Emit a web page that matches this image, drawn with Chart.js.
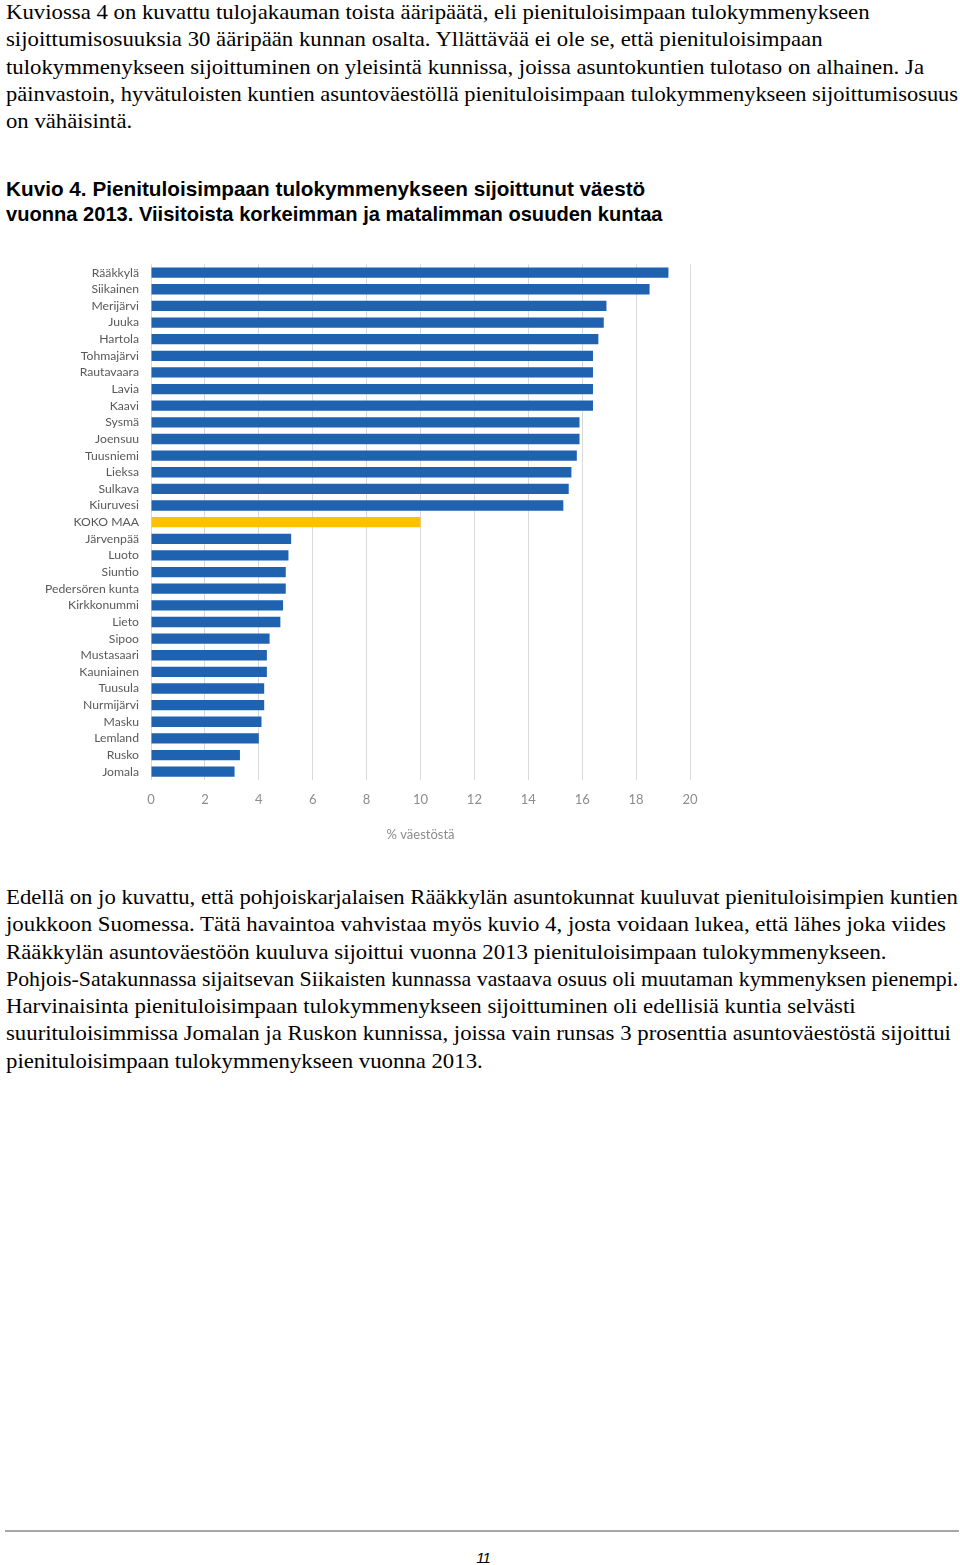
<!DOCTYPE html>
<html>
<head>
<meta charset="utf-8">
<script src="https://cdn.jsdelivr.net/npm/chart.js@4.4.1/dist/chart.umd.min.js"></script>
<style>
  body { margin: 0; background: #fff; width: 960px; height: 1565px; position: relative; overflow: hidden; }
  .para { position: absolute; left: 6px; font-family: "Liberation Serif", serif; font-size: 22px; line-height: 27.3px; color: #000; white-space: nowrap; }
  .head { position: absolute; left: 6px; top: 176px; font-family: "Liberation Sans", Arial, sans-serif; font-weight: bold; font-size: 20.5px; line-height: 25px; color: #000; white-space: nowrap; }
  .ln { display: block; }
  .ln span { display: inline-block; transform-origin: 0 0; }
  #chartBox { position: absolute; left: 0; top: 245px; width: 720px; height: 610px; }
  .rule { position: absolute; left: 5px; top: 1530px; width: 954px; height: 2px; background: #a6a6a6; }
  .pageno { position: absolute; left: 0; width: 966px; top: 1549px; text-align: center; font-family: "Liberation Sans", Arial, sans-serif; font-style: italic; font-size: 15px; letter-spacing: -1px; }
</style>
</head>
<body>
<div class="para" style="top: -2px;">
  <div class="ln" data-right="870"><span>Kuviossa 4 on kuvattu tulojakauman toista ääripäätä, eli pienituloisimpaan tulokymmenykseen</span></div>
  <div class="ln" data-right="823"><span>sijoittumisosuuksia 30 ääripään kunnan osalta. Yllättävää ei ole se, että pienituloisimpaan</span></div>
  <div class="ln" data-right="924"><span>tulokymmenykseen sijoittuminen on yleisintä kunnissa, joissa asuntokuntien tulotaso on alhainen. Ja</span></div>
  <div class="ln" data-right="958"><span>päinvastoin, hyvätuloisten kuntien asuntoväestöllä pienituloisimpaan tulokymmenykseen sijoittumisosuus</span></div>
  <div class="ln" data-right="132"><span>on vähäisintä.</span></div>
</div>
<div class="head">
  <div class="ln" data-right="645"><span>Kuvio 4. Pienituloisimpaan tulokymmenykseen sijoittunut väestö</span></div>
  <div class="ln" data-right="663"><span>vuonna 2013. Viisitoista korkeimman ja matalimman osuuden kuntaa</span></div>
</div>
<div id="chartBox"><canvas id="kuvio4"></canvas></div>
<div class="para" style="top: 883px;">
  <div class="ln" data-right="958"><span>Edellä on jo kuvattu, että pohjoiskarjalaisen Rääkkylän asuntokunnat kuuluvat pienituloisimpien kuntien</span></div>
  <div class="ln" data-right="946"><span>joukkoon Suomessa. Tätä havaintoa vahvistaa myös kuvio 4, josta voidaan lukea, että lähes joka viides</span></div>
  <div class="ln" data-right="887"><span>Rääkkylän asuntoväestöön kuuluva sijoittui vuonna 2013 pienituloisimpaan tulokymmenykseen.</span></div>
  <div class="ln" data-right="958"><span>Pohjois-Satakunnassa sijaitsevan Siikaisten kunnassa vastaava osuus oli muutaman kymmenyksen pienempi.</span></div>
  <div class="ln" data-right="856"><span>Harvinaisinta pienituloisimpaan tulokymmenykseen sijoittuminen oli edellisiä kuntia selvästi</span></div>
  <div class="ln" data-right="951"><span>suurituloisimmissa Jomalan ja Ruskon kunnissa, joissa vain runsas 3 prosenttia asuntoväestöstä sijoittui</span></div>
  <div class="ln" data-right="483"><span>pienituloisimpaan tulokymmenykseen vuonna 2013.</span></div>
</div>
<div class="rule"></div>
<div class="pageno">11</div>

<script>
// municipalities, highest 15, whole country, lowest 15
const municipalities = [
  "Rääkkylä", "Siikainen", "Merijärvi", "Juuka", "Hartola", "Tohmajärvi",
  "Rautavaara", "Lavia", "Kaavi", "Sysmä", "Joensuu", "Tuusniemi", "Lieksa",
  "Sulkava", "Kiuruvesi", "KOKO MAA", "Järvenpää", "Luoto", "Siuntio",
  "Pedersören kunta", "Kirkkonummi", "Lieto", "Sipoo", "Mustasaari",
  "Kauniainen", "Tuusula", "Nurmijärvi", "Masku", "Lemland", "Rusko", "Jomala"
];

// % of population in lowest income decile, 2013
const shares = [
  19.2, 18.5, 16.9, 16.8, 16.6, 16.4,
  16.4, 16.4, 16.4, 15.9, 15.9, 15.8, 15.6,
  15.5, 15.3, 10.0, 5.2, 5.1, 5.0,
  5.0, 4.9, 4.8, 4.4, 4.3,
  4.3, 4.2, 4.2, 4.1, 4.0, 3.3, 3.1
];

const xTicks = [0, 2, 4, 6, 8, 10, 12, 14, 16, 18, 20];
const wholeCountry = "KOKO MAA";

const BLUE = "#1f62b0";
const GOLD = "#ffc000";

// squeeze each text line to the width it has in the printed page
function fitLines() {
  document.querySelectorAll(".ln").forEach((ln) => {
    const span = ln.querySelector("span");
    const left = span.getBoundingClientRect().left;
    const target = parseFloat(ln.dataset.right) - left;
    const natural = span.offsetWidth;
    span.style.transform = `scaleX(${target / natural})`;
  });
}
fitLines();
if (document.fonts && document.fonts.ready) document.fonts.ready.then(fitLines);

const ctx = document.getElementById("kuvio4").getContext("2d");
const chart = new Chart(ctx, {
  type: "bar",
  data: {
    labels: municipalities,
    datasets: [{
      data: shares,
      backgroundColor: municipalities.map((m) => (m === wholeCountry ? GOLD : BLUE)),
      barPercentage: 0.62,
      categoryPercentage: 1.0,
    }],
  },
  options: {
    indexAxis: "y",
    responsive: true,
    maintainAspectRatio: false,
    animation: false,
    layout: { padding: { top: 9, right: 30, bottom: 0, left: 0 } },
    plugins: {
      legend: { display: false },
      tooltip: { enabled: false },
    },
    scales: {
      x: {
        min: xTicks[0],
        max: xTicks[xTicks.length - 1],
        afterBuildTicks: (scale) => {
          scale.ticks = xTicks.map((v) => ({ value: v }));
        },
        afterFit: (scale) => { scale.height = 75; },
        grid: { color: "#d9d9d9", drawTicks: false },
        border: { display: false },
        ticks: { color: "#8c8c8c", padding: 12, font: { family: "Lato", size: 13 } },
        title: {
          display: true,
          text: "% väestöstä",
          color: "#8c8c8c",
          font: { family: "Lato", size: 13 },
          padding: { top: 0, bottom: 12 },
        },
      },
      y: {
        afterFit: (scale) => { scale.width = 151; },
        grid: { display: false, drawTicks: false },
        border: { display: false },
        ticks: { color: "#595959", padding: 12, autoSkip: false, font: { family: "Lato", size: 12.2 } },
      },
    },
  },
});
</script>
</body>
</html>
